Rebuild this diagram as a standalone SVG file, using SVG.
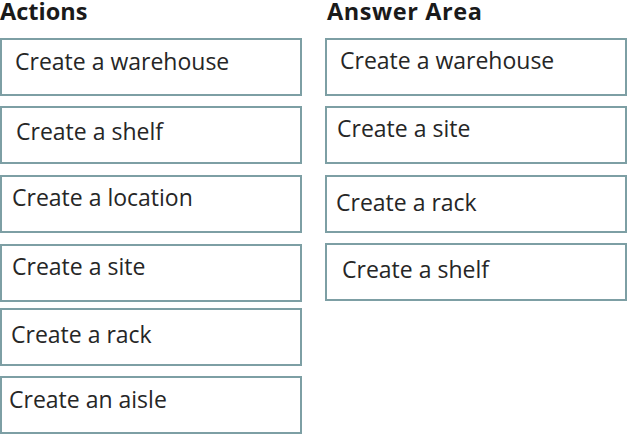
<svg xmlns="http://www.w3.org/2000/svg" width="629" height="435" viewBox="0 0 629 435">
<style>
.box{fill:#ffffff;stroke:#7d9fa4;stroke-width:2}
.t{font-family:"Open Sans","Noto Sans","DejaVu Sans",sans-serif;font-size:23px;fill:#262626}
.h{font-family:"Open Sans","Noto Sans","DejaVu Sans",sans-serif;font-size:23.5px;font-weight:bold;fill:#1a1a1a}
</style>
<rect width="629" height="435" fill="#ffffff"/>
<g id="headers">
<text class="h" x="0" y="20">Actions</text>
<text class="h" x="327" y="20" textLength="155" lengthAdjust="spacing">Answer Area</text>
</g>
<g id="a1"><rect class="box" x="1" y="39" width="300" height="56"/><text class="t" x="15" y="70">Create a warehouse</text></g>
<g id="a2"><rect class="box" x="1" y="107" width="300" height="56"/><text class="t" x="16" y="140">Create a shelf</text></g>
<g id="a3"><rect class="box" x="1" y="176" width="300" height="56"/><text class="t" x="12" y="206">Create a location</text></g>
<g id="a4"><rect class="box" x="1" y="245" width="300" height="56"/><text class="t" x="12" y="275">Create a site</text></g>
<g id="a5"><rect class="box" x="1" y="309" width="300" height="56"/><text class="t" x="11" y="343">Create a rack</text></g>
<g id="a6"><rect class="box" x="1" y="377" width="300" height="56"/><text class="t" x="9" y="408">Create an aisle</text></g>
<g id="b1"><rect class="box" x="326" y="39" width="300" height="56"/><text class="t" x="340" y="69">Create a warehouse</text></g>
<g id="b2"><rect class="box" x="326" y="107" width="300" height="56"/><text class="t" x="337" y="137">Create a site</text></g>
<g id="b3"><rect class="box" x="326" y="176" width="300" height="56"/><text class="t" x="336" y="211">Create a rack</text></g>
<g id="b4"><rect class="box" x="326" y="244" width="300" height="56"/><text class="t" x="342" y="278">Create a shelf</text></g>
<g id="connectors"></g>
</svg>
